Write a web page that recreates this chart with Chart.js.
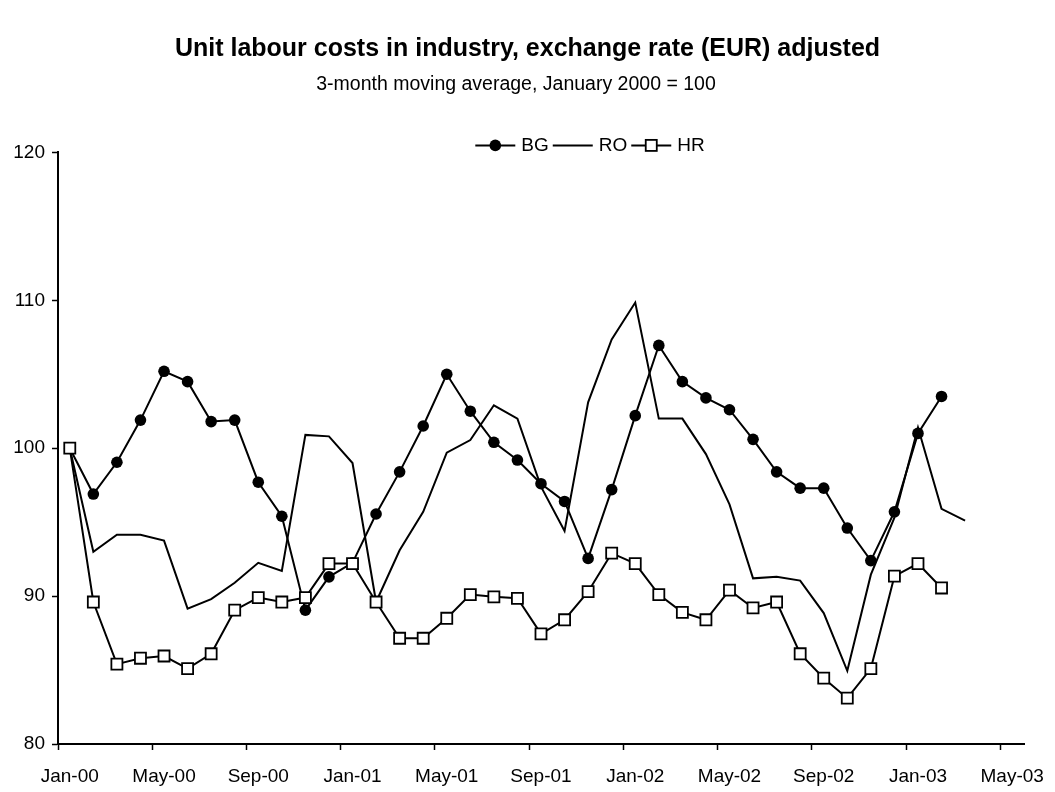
<!DOCTYPE html>
<html>
<head>
<meta charset="utf-8">
<title>Unit labour costs in industry</title>
<script src="https://cdn.jsdelivr.net/npm/chart.js@4/dist/chart.umd.min.js"></script>
<style>
    html, body { margin: 0; padding: 0; background: #fff; }
    #wrap { width: 1055px; height: 792px; }
</style>
</head>
<body>
<div id="wrap"><canvas id="chart" width="1055" height="792"></canvas></div>
<script>
// Monthly categories, Jan-00 .. May-03
const months = [
    'Jan-00', 'Feb-00', 'Mar-00', 'Apr-00', 'May-00', 'Jun-00', 'Jul-00', 'Aug-00', 'Sep-00', 'Oct-00', 'Nov-00', 'Dec-00',
    'Jan-01', 'Feb-01', 'Mar-01', 'Apr-01', 'May-01', 'Jun-01', 'Jul-01', 'Aug-01', 'Sep-01', 'Oct-01', 'Nov-01', 'Dec-01',
    'Jan-02', 'Feb-02', 'Mar-02', 'Apr-02', 'May-02', 'Jun-02', 'Jul-02', 'Aug-02', 'Sep-02', 'Oct-02', 'Nov-02', 'Dec-02',
    'Jan-03', 'Feb-03', 'Mar-03', 'Apr-03', 'May-03'
];

const bgValues = [
    100.0, 96.9, 99.05, 101.9, 105.2, 104.5, 101.8, 101.9, 97.7, 95.4, 89.05, 91.3,
    92.25, 95.55, 98.4, 101.5, 105.0, 102.5, 100.4, 99.2, 97.6, 96.4, 92.55, 97.2,
    102.2, 106.95, 104.5, 103.4, 102.6, 100.6, 98.4, 97.3, 97.3, 94.6, 92.4, 95.7,
    101.0, 103.5
];

const roValues = [
    100.0, 93.0, 94.15, 94.15, 93.75, 89.15, 89.8, 90.9, 92.25, 91.7, 100.9, 100.8,
    99.0, 89.6, 93.1, 95.7, 99.7, 100.55, 102.9, 102.0, 97.4, 94.4, 103.1, 107.35,
    109.85, 102.0, 102.0, 99.6, 96.2, 91.2, 91.3, 91.05, 88.85, 84.95, 91.45, 95.3,
    101.4, 95.9, 95.1
];

const hrValues = [
    100.0, 89.6, 85.4, 85.8, 85.95, 85.1, 86.1, 89.05, 89.9, 89.6, 89.9, 92.2,
    92.2, 89.6, 87.15, 87.15, 88.5, 90.1, 89.95, 89.85, 87.45, 88.4, 90.3, 92.9,
    92.2, 90.1, 88.9, 88.4, 90.4, 89.2, 89.6, 86.1, 84.45, 83.1, 85.1, 91.35,
    92.2, 90.55
];

const yTicks = [80, 90, 100, 110, 120];

const FONT = '"Liberation Sans", Arial, sans-serif';
const TITLE = 'Unit labour costs in industry, exchange rate (EUR) adjusted';
const SUBTITLE = '3-month moving average, January 2000 = 100';

// the axis labels in the original are narrow; use Liberation Sans Narrow if it is there
const probe = document.createElement('canvas').getContext('2d');
probe.font = '22px "Liberation Sans Narrow", "Liberation Sans"';
const wNarrow = probe.measureText('Jan-00 May-00').width;
probe.font = '22px "Liberation Sans"';
const wRegular = probe.measureText('Jan-00 May-00').width;
const hasNarrow = wNarrow < wRegular * 0.9;
const tickFont = hasNarrow
    ? { family: '"Liberation Sans Narrow", "Liberation Sans", Arial, sans-serif', size: 22 }
    : { family: FONT, size: 19 };

// Excel-like legend: short line with the marker in the middle
const lineLegend = {
    id: 'lineLegend',
    afterLayout(chart) {
        // the title boxes in the original sit a bit right of the plot centre
        chart.boxes.forEach(b => {
            if (!b.options || b.options.text === undefined) return;
            if (b.options.text === TITLE) b.right = chart.width;
            if (b.options.text === SUBTITLE) b.right = chart.width - 23;
        });
    },
    afterDraw(chart) {
        const ctx = chart.ctx;
        const y = chart.chartArea.top - 7;
        const sampleLen = 40;
        const textGap = 6;
        const itemGap = 4;
        ctx.save();
        ctx.font = tickFont.size + 'px ' + tickFont.family;
        ctx.textBaseline = 'middle';
        const items = chart.data.datasets.map(ds => ({ ds, w: sampleLen + textGap + ctx.measureText(ds.label).width }));
        const total = items.reduce((s, it) => s + it.w, 0) + itemGap * (items.length - 1);
        let x = 590 - total / 2;
        items.forEach(({ ds, w }) => {
            ctx.strokeStyle = '#000';
            ctx.lineWidth = ds.borderWidth;
            ctx.beginPath();
            ctx.moveTo(x, y);
            ctx.lineTo(x + sampleLen, y);
            ctx.stroke();
            const cx = x + sampleLen / 2;
            if (ds.pointStyle === 'circle' && ds.pointRadius > 0) {
                ctx.fillStyle = ds.pointBackgroundColor;
                ctx.beginPath();
                ctx.arc(cx, y, ds.pointRadius, 0, Math.PI * 2);
                ctx.fill();
            } else if (ds.pointStyle === 'rect' && ds.pointRadius > 0) {
                const s = ds.pointRadius * Math.SQRT1_2;
                ctx.fillStyle = ds.pointBackgroundColor;
                ctx.lineWidth = ds.pointBorderWidth;
                ctx.fillRect(cx - s, y - s, 2 * s, 2 * s);
                ctx.strokeRect(cx - s, y - s, 2 * s, 2 * s);
            }
            ctx.fillStyle = '#000';
            ctx.textAlign = 'left';
            ctx.fillText(ds.label, x + sampleLen + textGap, y);
            x += w + itemGap;
        });
        ctx.restore();
    }
};

new Chart(document.getElementById('chart'), {
    type: 'line',
    data: {
        labels: months,
        datasets: [
            {
                label: 'BG',
                data: bgValues,
                borderColor: '#000',
                borderWidth: 2,
                pointStyle: 'circle',
                pointRadius: 5.8,
                pointBackgroundColor: '#000',
                pointBorderColor: '#000',
                pointBorderWidth: 0,
                tension: 0,
                order: 1
            },
            {
                label: 'RO',
                data: roValues,
                borderColor: '#000',
                borderWidth: 2,
                pointRadius: 0,
                tension: 0,
                order: 2
            },
            {
                label: 'HR',
                data: hrValues,
                borderColor: '#000',
                borderWidth: 2,
                pointStyle: 'rect',
                pointRadius: 7.8,
                pointBackgroundColor: '#fff',
                pointBorderColor: '#000',
                pointBorderWidth: 1.8,
                tension: 0,
                order: 0
            }
        ]
    },
    options: {
        responsive: false,
        animation: false,
        devicePixelRatio: 1,
        layout: { padding: { left: 0, right: 31, top: 0, bottom: 0 } },
        plugins: {
            legend: { display: false },
            tooltip: { enabled: false },
            title: {
                display: true,
                text: TITLE,
                color: '#000',
                font: { family: FONT, size: 25, weight: 'bold' },
                padding: { top: 34, bottom: 6 }
            },
            subtitle: {
                display: true,
                text: SUBTITLE,
                color: '#000',
                font: { family: FONT, size: 19.5 },
                padding: { top: 3, bottom: 56 }
            }
        },
        scales: {
            x: {
                type: 'category',
                offset: true,
                afterFit: scale => {
                    scale.height = 48;
                    scale.paddingLeft = 0;
                    scale.paddingRight = 0;
                },
                grid: {
                    offset: true,
                    drawOnChartArea: false,
                    drawTicks: true,
                    tickLength: 6,
                    tickWidth: 1.5,
                    tickColor: ctx => (ctx.index % 4 === 0 ? '#000' : 'rgba(0,0,0,0)')
                },
                border: { display: true, color: '#000', width: 2 },
                ticks: {
                    autoSkip: false,
                    maxRotation: 0,
                    padding: 15,
                    color: '#000',
                    font: tickFont,
                    callback: function (value, index) {
                        return index % 4 === 0 ? this.getLabelForValue(value) : '';
                    }
                }
            },
            y: {
                min: 80,
                max: 120,
                afterBuildTicks: scale => { scale.ticks = yTicks.map(v => ({ value: v })); },
                afterFit: scale => { scale.width = 58; },
                grid: {
                    drawOnChartArea: false,
                    drawTicks: true,
                    tickLength: 6,
                    tickWidth: 1.5,
                    tickColor: '#000'
                },
                border: { display: true, color: '#000', width: 2 },
                ticks: {
                    padding: 7,
                    color: '#000',
                    font: tickFont
                }
            }
        }
    },
    plugins: [lineLegend]
});
</script>
</body>
</html>
